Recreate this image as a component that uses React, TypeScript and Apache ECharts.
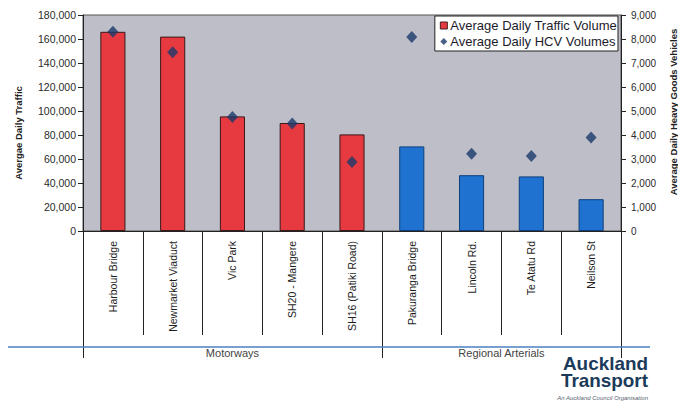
import React, { useEffect, useRef } from "react";
import * as echarts from "echarts";

const categories = [
  "Harbour Bridge",
  "Newmarket Viaduct",
  "Vic Park",
  "SH20 - Mangere",
  "SH16 (Patiki Road)",
  "Pakuranga Bridge",
  "Lincoln Rd.",
  "Te Atatu Rd",
  "Neilson St",
];
const groupOf = ["M", "M", "M", "M", "M", "R", "R", "R", "R"];
const trafficVolumes = [166000, 162000, 95500, 90000, 80500, 70500, 46500, 45500, 26500];
const hcvVolumes = [8300, 7450, 4750, 4480, 2880, 8080, 3220, 3120, 3900];
const groupNames = ["Motorways", "Regional Arterials"];
const groupBounds = [0, 5, 9];
const groupCenters = [2.5, 7];

const RED = "#e63a40";
const BLUE = "#1f72d0";
const FONT = "Liberation Sans, Arial, sans-serif";

export default function App() {
  const ref = useRef<HTMLDivElement>(null);
  useEffect(() => {
    if (!ref.current) return;
    const chart = echarts.init(ref.current, null, { renderer: "svg" });
    const option: any = {
      animation: false,
      backgroundColor: "#ffffff",
      textStyle: { fontFamily: FONT },
      grid: {
        left: 83,
        right: 57,
        top: 15,
        bottom: 170,
        show: true,
        backgroundColor: "#bdbec8",
        borderColor: "#555555",
        borderWidth: 1,
        containLabel: false,
        outerBoundsMode: "none",
      },
      legend: {
        orient: "vertical",
        right: 60,
        top: 16,
        backgroundColor: "#ffffff",
        borderColor: "#222222",
        borderWidth: 1,
        borderRadius: 0,
        padding: [2, 1, 2, 5],
        itemGap: 1,
        itemWidth: 7,
        itemHeight: 7,
        textStyle: { fontSize: 13, color: "#1c1c2c", fontFamily: FONT, lineHeight: 15, padding: [0, 0, 0, -2] },
        data: [
          { name: "Average Daily Traffic Volume", icon: "rect", itemStyle: { color: RED, borderColor: "#402020", borderWidth: 1 } },
          { name: "Average Daily HCV Volumes", icon: "diamond", itemStyle: { color: "#1a3a6a" } },
        ],
      },
      xAxis: [
        {
          type: "category",
          data: categories,
          boundaryGap: true,
          axisLine: { show: true, lineStyle: { color: "#222222", width: 1 } },
          axisTick: { show: true, length: 104, lineStyle: { color: "#222222", width: 1 } },
          axisLabel: {
            rotate: 90,
            interval: 0,
            margin: 10,
            fontSize: 10.5,
            color: "#1e1e1e",
            fontFamily: FONT,
          },
        },
        {
          type: "value",
          min: 0,
          max: 9,
          position: "bottom",
          axisLine: { show: false },
          splitLine: { show: false },
          axisTick: {
            show: true,
            length: 127,
            customValues: groupBounds,
            lineStyle: { color: "#222222", width: 1 },
          },
          axisLabel: {
            show: true,
            customValues: groupCenters,
            margin: 116,
            fontSize: 11,
            color: "#444444",
            fontFamily: FONT,
            formatter: (v: number) => groupNames[groupCenters.indexOf(v)] ?? "",
          },
        },
      ],
      yAxis: [
        {
          type: "value",
          min: 0,
          max: 180000,
          interval: 20000,
          position: "left",
          name: "Avergae Daily Traffic",
          nameLocation: "middle",
          nameRotate: 90,
          nameGap: 60,
          nameTextStyle: { fontSize: 9.5, fontWeight: "bold", color: "#222222", fontFamily: FONT, padding: [0, 20, 0, 0] },
          axisLine: { show: true, lineStyle: { color: "#222222" } },
          axisTick: { show: true, length: 5, lineStyle: { color: "#222222" } },
          splitLine: { show: false },
          axisLabel: {
            fontSize: 10.5,
            color: "#2a2a2a",
            margin: 7,
            fontFamily: FONT,
            formatter: (v: number) => v.toLocaleString("en-US"),
          },
        },
        {
          type: "value",
          min: 0,
          max: 9000,
          interval: 1000,
          position: "right",
          name: "Average Daily Heavy Goods Vehicles",
          nameLocation: "middle",
          nameRotate: 90,
          nameGap: 47,
          nameTextStyle: { fontSize: 9.5, fontWeight: "bold", color: "#222222", fontFamily: FONT, padding: [0, 0, 0, 22] },
          axisLine: { show: true, lineStyle: { color: "#222222" } },
          axisTick: { show: true, length: 5, lineStyle: { color: "#222222" } },
          splitLine: { show: false },
          axisLabel: {
            fontSize: 10,
            color: "#2a2a2a",
            margin: 10,
            fontFamily: FONT,
            formatter: (v: number) => v.toLocaleString("en-US"),
          },
        },
      ],
      series: [
        {
          name: "Average Daily Traffic Volume",
          type: "bar",
          xAxisIndex: 0,
          yAxisIndex: 0,
          barWidth: "42%",
          itemStyle: { color: RED, borderColor: "#3a1818", borderWidth: 1 },
          data: trafficVolumes.map((v, i) => ({
            value: v,
            itemStyle:
              groupOf[i] === "M"
                ? { color: RED, borderColor: "#3a1818", borderWidth: 1 }
                : { color: BLUE, borderColor: "#0e3f7c", borderWidth: 1 },
          })),
        },
        {
          name: "Average Daily HCV Volumes",
          type: "scatter",
          xAxisIndex: 0,
          yAxisIndex: 1,
          symbol: "diamond",
          symbolSize: [11, 12],
          itemStyle: { color: "#1a3a6a" },
          data: hcvVolumes,
        },
      ],
      graphic: [
        {
          type: "line",
          shape: { x1: 8, y1: 347, x2: 650, y2: 347 },
          style: { stroke: "#4a80c2", lineWidth: 1.5 },
          z: 10,
        },
        {
          type: "text",
          x: 648,
          y: 355,
          scaleX: 1.08,
          style: {
            text: "Auckland",
            fill: "#1b3a5a",
            font: `bold 17.5px ${FONT}`,
            textAlign: "right",
            textVerticalAlign: "top",
          },
        },
        {
          type: "text",
          x: 648,
          y: 372.5,
          scaleX: 1.08,
          style: {
            text: "Transport",
            fill: "#1b3a5a",
            font: `bold 17.5px ${FONT}`,
            textAlign: "right",
            textVerticalAlign: "top",
          },
        },
        {
          type: "text",
          x: 648,
          y: 398,
          style: {
            text: "An Auckland Council Organisation",
            fill: "#556070",
            font: `italic 6px ${FONT}`,
            textAlign: "right",
            textVerticalAlign: "middle",
          },
        },
      ],
    };
    chart.setOption(option);
    return () => chart.dispose();
  }, []);
  return (
    <div
      ref={ref}
      style={{ position: "fixed", left: 0, top: 0, width: 678, height: 401 }}
    />
  );
}
